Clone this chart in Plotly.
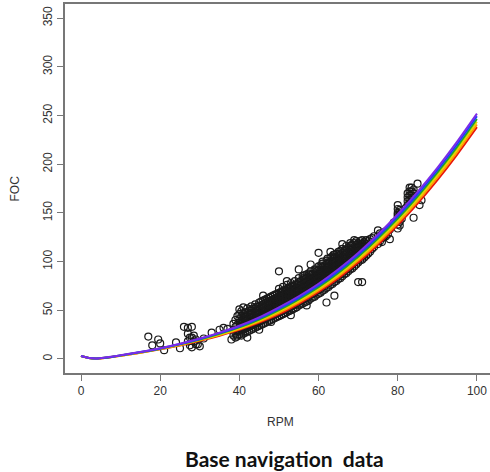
import plotly.graph_objects as go

# ---------------- data ----------------
curve_rpm = [0, 2, 4, 6, 8, 10, 15, 20, 25, 30, 35, 40, 45, 50, 55, 60, 65, 70, 75, 80, 85, 90, 95, 100]
foc_red = [3, 0.95, 0.4, 1.0, 2.1, 3.2, 6.4, 9.9, 13.9, 18.6, 23.9, 29.9, 37.3, 46.0, 56.7, 68.8, 83.0, 99.1, 117.3, 137.4, 159.6, 183.7, 209.9, 238]
foc_orange = [3, 0.95, 0.4, 1.1, 2.2, 3.3, 6.5, 10.2, 14.3, 19.1, 24.5, 30.7, 38.4, 47.4, 58.2, 70.5, 84.8, 101.1, 119.4, 139.6, 161.9, 186.2, 212.5, 240.8]
foc_yellow = [3, 1.0, 0.5, 1.2, 2.3, 3.4, 6.7, 10.4, 14.6, 19.6, 25.2, 31.6, 39.5, 48.8, 59.7, 72.2, 86.6, 103.0, 121.4, 141.9, 164.3, 188.7, 215.2, 243.6]
foc_green = [3, 1.0, 0.5, 1.2, 2.3, 3.6, 6.9, 10.6, 15.0, 20.0, 25.8, 32.4, 40.5, 50.2, 61.3, 73.8, 88.4, 105.0, 123.6, 144.1, 166.7, 191.3, 217.8, 246.4]
foc_blue = [3, 1.0, 0.6, 1.3, 2.4, 3.7, 7.1, 10.8, 15.3, 20.5, 26.5, 33.3, 41.6, 51.6, 62.8, 75.5, 90.2, 106.9, 125.7, 146.4, 169.1, 193.8, 220.5, 249.2]
foc_purple = [3, 1.05, 0.6, 1.4, 2.5, 3.8, 7.2, 11.1, 15.7, 21.0, 27.1, 34.1, 42.7, 53.0, 64.4, 77.2, 92.1, 108.9, 127.8, 148.6, 171.5, 196.3, 223.2, 252]

# dense observation cloud, one list of FOC values per RPM column
cloud_rpm_cols = [38.5, 39, 39.5, 40, 40.5, 41, 41.5, 42, 42.5, 43, 43.5, 44, 44.5, 45, 45.5, 46, 46.5,
                  47, 47.5, 48, 48.5, 49, 49.5, 50, 50.5, 51, 51.5, 52, 52.5, 53, 53.5, 54, 54.5, 55,
                  55.5, 56, 56.5, 57, 57.5, 58, 58.5, 59, 59.5, 60, 60.5, 61, 61.5, 62, 62.5, 63, 63.5,
                  64, 64.5, 65, 65.5, 66, 66.5, 67, 67.5, 68, 68.5, 69, 69.5, 70, 70.5, 71, 71.5, 72,
                  72.5, 73, 73.5, 74, 75, 75.5, 76, 76.5, 77, 77.5, 80, 80.5, 82.5, 83, 83.5, 84]
cloud_foc_cols = [
    [24, 30, 36], [22, 27, 33, 40], [25, 29, 35, 44],
    [25, 29, 33, 37, 41, 46, 51], [24, 28, 32, 36, 40, 44, 49], [26, 30, 34, 38, 42, 47, 53],
    [27, 31, 35, 39, 43, 48], [28, 32, 36, 40, 44, 48, 52], [29, 33, 37, 41, 45, 50],
    [30, 34, 38, 42, 46, 50, 54], [31, 35, 39, 43, 47, 52], [32, 36, 40, 44, 48, 52, 56],
    [33, 37, 41, 45, 49, 54], [34, 38, 42, 46, 50, 54, 58], [35, 39, 43, 47, 51, 55, 59],
    [36, 40, 44, 48, 52, 56, 60], [37, 41, 45, 49, 53, 57, 61], [38, 42, 46, 50, 54, 58, 62],
    [39, 43, 47, 51, 55, 59, 63], [40, 44, 48, 52, 56, 60, 64], [41, 45, 49, 53, 57, 61, 65],
    [42, 46, 50, 54, 58, 62, 66], [43, 47, 51, 55, 59, 63, 67], [44, 48, 52, 56, 60, 64, 68, 72],
    [45, 49, 53, 57, 61, 65, 69], [46, 50, 54, 58, 62, 66, 70, 74], [47, 51, 55, 59, 63, 67, 71],
    [48, 52, 56, 60, 64, 68, 72, 76], [49, 53, 57, 61, 65, 69, 73], [50, 54, 58, 62, 66, 70, 74, 78],
    [51, 55, 59, 63, 67, 71, 75], [52, 56, 60, 64, 68, 72, 76, 80], [53, 57, 61, 65, 69, 73, 77],
    [55, 59, 63, 67, 71, 75, 79, 83], [56, 60, 64, 68, 72, 76, 80], [57, 61, 65, 69, 73, 77, 81, 85],
    [58, 62, 66, 70, 74, 78, 82, 86], [59, 63, 67, 71, 75, 79, 83, 87], [60, 64, 68, 72, 76, 80, 84, 88],
    [62, 66, 70, 74, 78, 82, 86, 90], [63, 67, 71, 75, 79, 83, 87], [64, 68, 72, 76, 80, 84, 88, 92],
    [66, 70, 74, 78, 82, 86, 90], [67, 71, 75, 79, 83, 87, 91, 95], [68, 72, 76, 80, 84, 88, 92, 96],
    [70, 74, 78, 82, 86, 90, 94, 98], [71, 75, 79, 83, 87, 91, 95], [73, 77, 81, 85, 89, 93, 97, 101],
    [74, 78, 82, 86, 90, 94, 98], [76, 80, 84, 88, 92, 96, 100, 104], [77, 81, 85, 89, 93, 97, 101, 105],
    [79, 83, 87, 91, 95, 99, 103, 107], [80, 84, 88, 92, 96, 100, 104, 108], [82, 86, 90, 94, 98, 102, 106, 110],
    [83, 87, 91, 95, 99, 103, 107, 111], [85, 89, 93, 97, 101, 105, 109, 113], [87, 91, 95, 99, 103, 107, 111],
    [88, 92, 96, 100, 104, 108, 112, 116], [90, 94, 98, 102, 106, 110, 114], [92, 96, 100, 104, 108, 112, 116, 119],
    [93, 97, 101, 105, 109, 113, 117], [95, 99, 103, 107, 111, 115, 119], [97, 101, 105, 109, 113, 117, 121],
    [99, 103, 107, 111, 115, 119], [101, 105, 109, 113, 117, 121], [102, 106, 110, 114, 118, 122],
    [104, 108, 112, 116, 120], [106, 110, 114, 118, 122], [108, 112, 116, 121], [110, 114, 118, 123],
    [113, 118, 124], [115, 120, 126],
    [118, 122, 126], [121, 125, 129], [120, 124, 128], [125, 130], [126, 131], [128],
    [134, 138, 142, 146, 150, 154, 158], [137, 141, 145, 149, 153],
    [158, 162, 166, 170], [156, 160, 164, 168, 172, 176], [160, 164, 168, 172, 176], [162, 166, 170, 174],
]

# extra in-between columns that thicken the core of the cloud
core_rpm_cols = [41.25, 42.75, 44.25, 45.75, 47.25, 48.75, 50.25, 51.75, 53.25, 54.75, 56.25, 57.75,
                 59.25, 60.75, 62.25, 63.75, 65.25, 66.75, 68.25, 69.75, 71.25]
core_foc_cols = [
    [32, 36, 40, 44], [35, 39, 43, 47], [38, 42, 46, 50], [41, 45, 49, 53], [44, 48, 52, 56],
    [47, 51, 55, 59], [50, 54, 58, 62, 66], [53, 57, 61, 65, 69], [56, 60, 64, 68, 72],
    [60, 64, 68, 72, 76], [63, 67, 71, 75, 79, 83], [67, 71, 75, 79, 83, 87], [71, 75, 79, 83, 87, 91],
    [75, 79, 83, 87, 91, 95], [79, 83, 87, 91, 95, 99, 103], [83, 87, 91, 95, 99, 103, 107],
    [88, 92, 96, 100, 104, 108], [92, 96, 100, 104, 108, 112], [97, 101, 105, 109, 113, 117],
    [101, 105, 109, 113, 117], [106, 110, 114, 118],
]

# scattered individual observations
sparse_rpm = [17, 18, 19.5, 20, 21, 24, 25, 26, 27, 28, 27, 28, 28.5, 29, 27.5, 28, 29, 27, 27.5, 28.5,
              29.5, 30, 31, 33, 35, 36, 37, 38, 39.4, 39.4,
              46, 50, 52, 55, 58, 60, 61, 63, 66, 69,
              42, 45, 48, 53, 57, 62, 64, 70, 71,
              75, 76, 77, 78, 78, 79, 80, 81, 82, 84, 85, 85.5, 86]
sparse_foc = [23, 14, 20, 16, 9, 17, 11, 33, 32, 33, 26, 22, 18, 15, 14, 12, 20, 18, 22, 24,
              15, 13, 21, 27, 30, 32, 31, 20, 23, 30,
              65, 90, 80, 92, 97, 109, 100, 110, 118, 122,
              22, 30, 38, 45, 55, 58, 65, 79, 79,
              132, 128, 130, 123, 133, 140, 148, 144, 155, 145, 180, 158, 163]

x_ticks = [0, 20, 40, 60, 80, 100]
y_ticks = [0, 50, 100, 150, 200, 250, 300, 350]

# ---------------- figure ----------------
pts_x = list(sparse_rpm)
pts_y = list(sparse_foc)
for cols_r, cols_v in ((cloud_rpm_cols, cloud_foc_cols), (core_rpm_cols, core_foc_cols)):
    for r, col in zip(cols_r, cols_v):
        for v in col:
            pts_x.append(r)
            pts_y.append(v)

fig = go.Figure()
fig.add_trace(go.Scatter(
    x=pts_x, y=pts_y, mode="markers",
    marker=dict(symbol="circle-open", size=7, color="#1a1a1a", line=dict(width=1.2, color="#1a1a1a")),
    hoverinfo="skip", showlegend=False,
))

curves = [
    (foc_red, "#E8140C"),
    (foc_orange, "#FF9A00"),
    (foc_yellow, "#E6D600"),
    (foc_green, "#22A822"),
    (foc_blue, "#1E3CFF"),
    (foc_purple, "#7B2BE8"),
]
for vals, col in curves:
    fig.add_trace(go.Scatter(
        x=curve_rpm, y=vals, mode="lines",
        line=dict(color=col, width=2, shape="spline", smoothing=0.6),
        hoverinfo="skip", showlegend=False,
    ))

axis_col = "#777777"
tick_font = dict(family="Liberation Sans, Arial, sans-serif", size=12, color="#333333")

fig.update_layout(
    width=490, height=472,
    margin=dict(l=65, r=0, t=4, b=99),
    paper_bgcolor="white", plot_bgcolor="white",
    xaxis=dict(
        range=[-4.04, 103.3], tickmode="array", tickvals=x_ticks,
        showgrid=False, zeroline=False,
        showline=True, linecolor=axis_col, linewidth=1.5, mirror=True,
        ticks="outside", ticklen=6, tickcolor=axis_col, tickwidth=1,
        tickfont=tick_font,
    ),
    yaxis=dict(
        range=[-14.4, 364.5], tickmode="array", tickvals=y_ticks,
        showgrid=False, zeroline=False,
        showline=True, linecolor=axis_col, linewidth=1.5, mirror=False,
        ticks="outside", ticklen=6, tickcolor=axis_col, tickwidth=1,
        tickangle=-90, tickfont=tick_font,
    ),
    annotations=[
        dict(text="RPM", xref="paper", yref="paper", x=(280 - 65) / 425, y=(373 - 422) / 369,
             xanchor="center", yanchor="middle", showarrow=False,
             font=dict(family="Liberation Sans, Arial, sans-serif", size=12, color="#333333")),
        dict(text="FOC", xref="paper", yref="paper", x=(14 - 65) / 425, y=0.5,
             xanchor="center", yanchor="middle", showarrow=False, textangle=-90,
             font=dict(family="Liberation Sans, Arial, sans-serif", size=12, color="#333333")),
        dict(text="<b>Base navigation&nbsp; data</b>", xref="paper", yref="paper",
             x=(284 - 65) / 425, y=(373 - 458) / 369,
             xanchor="center", yanchor="middle", showarrow=False,
             font=dict(family="Lato, sans-serif", size=21, color="#111111")),
    ],
)

fig.write_html(
    "out.html",
    config={"displayModeBar": False},
    post_script="document.body.style.margin='0';document.body.style.padding='0';"
                "document.documentElement.style.overflow='hidden';",
)
